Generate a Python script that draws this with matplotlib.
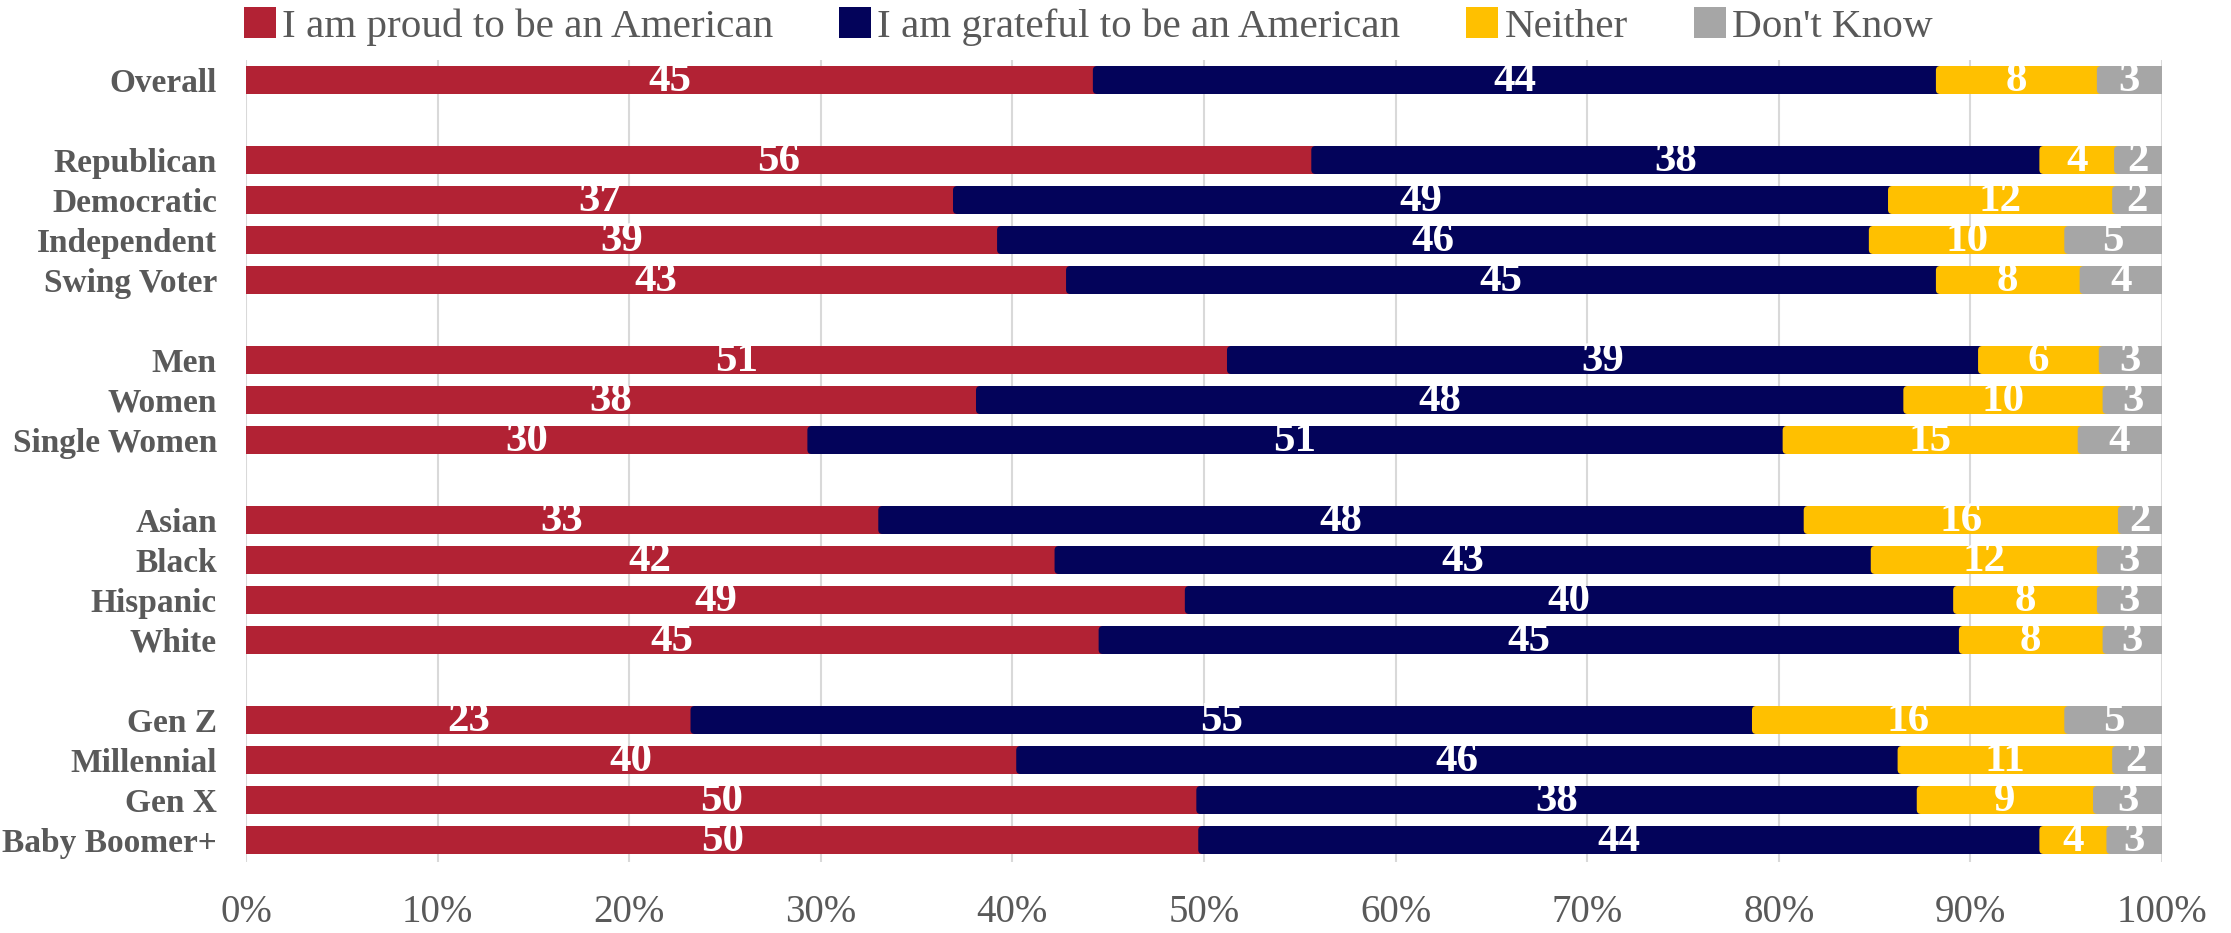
from matplotlib import pyplot as plt
from matplotlib.patches import Patch, FancyBboxPatch, Rectangle
import numpy as np

# rows of the chart (groups are separated by an empty row)
categories = ["Overall",
              "Republican", "Democratic", "Independent", "Swing Voter",
              "Men", "Women", "Single Women",
              "Asian", "Black", "Hispanic", "White",
              "Gen Z", "Millennial", "Gen X", "Baby Boomer+"]
group_sizes = [1, 4, 3, 4, 4]

series = ["I am proud to be an American", "I am grateful to be an American",
          "Neither", "Don't Know"]

# bar lengths (share of 100%)
proud = [44.2, 55.6, 36.9, 39.2, 42.8, 51.2, 38.1, 29.3, 33.0, 42.2, 49.0, 44.5, 23.2, 40.2, 49.6, 49.7]
grateful = [44.0, 38.0, 48.8, 45.5, 45.4, 39.2, 48.4, 50.9, 48.3, 42.6, 40.1, 44.9, 55.4, 46.0, 37.6, 43.9]
neither = [8.4, 3.9, 11.7, 10.2, 7.5, 6.3, 10.4, 15.4, 16.4, 11.8, 7.5, 7.5, 16.3, 11.2, 9.2, 3.5]
dont_know = [3.4, 2.5, 2.6, 5.1, 4.3, 3.3, 3.2, 4.3, 2.3, 3.4, 3.4, 3.1, 5.2, 2.5, 3.6, 2.9]

# numbers printed on the bars
proud_lbl = [45, 56, 37, 39, 43, 51, 38, 30, 33, 42, 49, 45, 23, 40, 50, 50]
grateful_lbl = [44, 38, 49, 46, 45, 39, 48, 51, 48, 43, 40, 45, 55, 46, 38, 44]
neither_lbl = [8, 4, 12, 10, 8, 6, 10, 15, 16, 12, 8, 8, 16, 11, 9, 4]
dk_lbl = [3, 2, 2, 5, 4, 3, 3, 4, 2, 3, 3, 3, 5, 2, 3, 3]

colors = ["#B22234", "#03035A", "#FFC000", "#A6A6A6"]
txt_gray = "#595959"
serif = ["Liberation Serif", "DejaVu Serif"]

# y positions with a blank row between groups
ypos = []
r = 0
for g in group_sizes:
    for i in range(g):
        ypos.append(r)
        r += 1
    r += 1
ypos = np.array(ypos)

W, H = 2231, 933
ax_w, ax_h = 1916, 802
fig = plt.figure(figsize=(W / 100, H / 100), dpi=100)
ax = fig.add_axes([246 / W, 1 - 862 / H, ax_w / W, ax_h / H])
ax.set_xlim(0, 100)
ax.set_ylim(ypos[-1] + 0.55, -0.5)

# keep rounded corners circular on screen
px_x = ax_w / 100
px_y = ax_h / (ypos[-1] + 1.05)
aspect = px_x / px_y

bh = 0.7
values = [proud, grateful, neither, dont_know]
labels = [proud_lbl, grateful_lbl, neither_lbl, dk_lbl]
nser = len(values)
left = np.zeros(len(categories))
for k, (vals, lbls, col) in enumerate(zip(values, labels, colors)):
    vals = np.array(vals)
    for y, l, v, t in zip(ypos, left, vals, lbls):
        # segment reaches a little under the next one, whose left end is rounded
        w = v + 0.5 if k < nser - 1 else v + 1.0
        if k == 0:
            p = Rectangle((l, y - bh / 2), w, bh, facecolor=col,
                          edgecolor="none", zorder=2)
        else:
            p = FancyBboxPatch((l, y - bh / 2), w, bh,
                               boxstyle="round,pad=0,rounding_size=0.22",
                               mutation_aspect=aspect, facecolor=col,
                               edgecolor="none", zorder=2 + k)
        ax.add_patch(p)
        ax.text(l + v / 2, y + 0.03, str(t), ha="center", va="center",
                color="white", fontsize=31, fontweight="bold",
                family=serif, zorder=10)
    left += vals

ax.set_xticks(np.arange(0, 101, 10))
ax.set_xticklabels([f"{v}%" for v in range(0, 101, 10)],
                   fontsize=28, color=txt_gray, family=serif)
ax.set_yticks(ypos)
ax.set_yticklabels(categories, fontsize=24, fontweight="bold",
                   color=txt_gray, family=serif)
ax.tick_params(axis="x", length=0, pad=23)
ax.tick_params(axis="y", length=0, pad=21)
ax.xaxis.grid(True, color="#D9D9D9", linewidth=1.5, zorder=0)
ax.set_axisbelow(True)
for s in ax.spines.values():
    s.set_visible(False)

handles = [Patch(facecolor=c, edgecolor="none") for c in colors]
fig.legend(handles, series, loc="upper left",
           bbox_to_anchor=(244 / W, 1 - 7 / H), ncol=4, frameon=False,
           borderpad=0, borderaxespad=0, handlelength=0.78, handleheight=0.8,
           handletextpad=0.15, columnspacing=1.6,
           prop={"family": serif, "size": 29.6}, labelcolor=txt_gray)

fig.savefig("out.png", dpi=100)
